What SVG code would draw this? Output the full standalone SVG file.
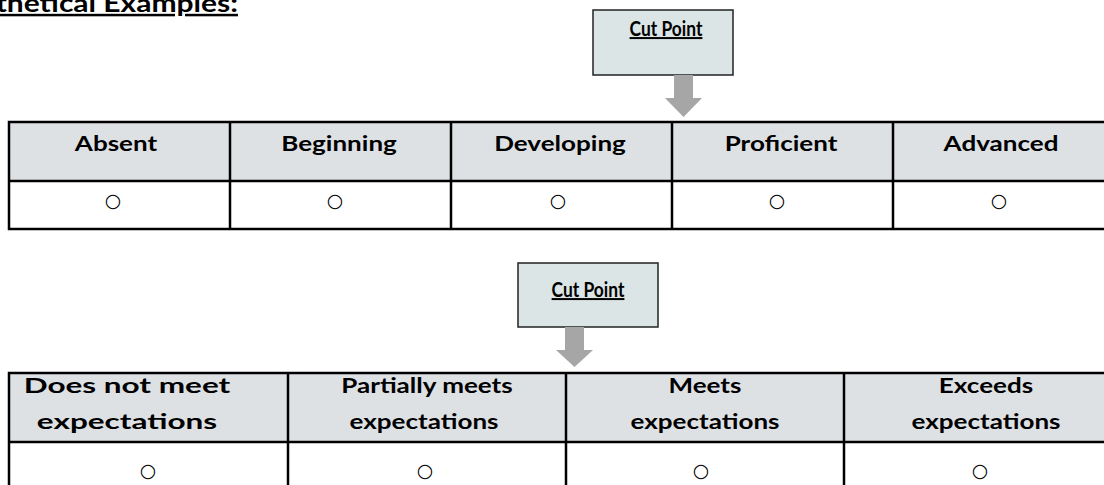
<svg xmlns="http://www.w3.org/2000/svg" width="1104" height="485" viewBox="0 0 1104 485">
<style>
.title{font-family:Lato,"Open Sans",sans-serif;font-weight:bold;font-size:25px;fill:#000;text-decoration:underline}
.cp{fill:#dbe5e6;stroke:#222;stroke-width:1.5}
.cpt{font-family:Lato,"Open Sans",sans-serif;font-weight:bold;font-size:20px;fill:#000;text-decoration:underline}
.hd{fill:#dee1e4}
.hdt{font-family:Lato,"Open Sans",sans-serif;font-weight:bold;font-size:21px;fill:#000}
.ln{stroke:#000;stroke-width:2.5;fill:none}
.ci{font-family:"DejaVu Sans",sans-serif;font-size:19px;fill:#000}
.arr{fill:#a6a6a6}
</style>
<rect width="1104" height="485" fill="#fff"/>
<g id="title"><text class="title" text-anchor="end" transform="translate(238,12) scale(1.2,1)">thetical Examples:</text></g>

<g id="cutpoint1"><rect class="cp" x="593" y="10" width="140" height="65"/><text class="cpt" text-anchor="middle" transform="translate(666,36) scale(0.87,1)">Cut Point</text></g>
<g id="cutpoint2"><rect class="cp" x="518" y="263" width="140" height="64"/><text class="cpt" text-anchor="middle" transform="translate(588,297) scale(0.87,1)">Cut Point</text></g>

<g id="table1">
<rect class="hd" x="9" y="122" width="1105" height="59"/>
<g id="t1-absent"><text class="hdt" text-anchor="middle" transform="translate(116,151) scale(1.24,1)">Absent</text><text class="ci" x="113" y="200" text-anchor="middle" dominant-baseline="central">○</text></g>
<g id="t1-beginning"><text class="hdt" text-anchor="middle" transform="translate(339,151) scale(1.24,1)">Beginning</text><text class="ci" x="335" y="200" text-anchor="middle" dominant-baseline="central">○</text></g>
<g id="t1-developing"><text class="hdt" text-anchor="middle" transform="translate(560,151) scale(1.24,1)">Developing</text><text class="ci" x="558" y="200" text-anchor="middle" dominant-baseline="central">○</text></g>
<g id="t1-proficient"><text class="hdt" text-anchor="middle" transform="translate(781,151) scale(1.24,1)">Proficient</text><text class="ci" x="777" y="200" text-anchor="middle" dominant-baseline="central">○</text></g>
<g id="t1-advanced"><text class="hdt" text-anchor="middle" transform="translate(1001,151) scale(1.24,1)">Advanced</text><text class="ci" x="999" y="200" text-anchor="middle" dominant-baseline="central">○</text></g>
<rect class="ln" x="9" y="122" width="1105" height="107"/>
<line class="ln" x1="9" y1="181" x2="1114" y2="181"/>
<line class="ln" x1="230" y1="122" x2="230" y2="229"/>
<line class="ln" x1="451" y1="122" x2="451" y2="229"/>
<line class="ln" x1="672" y1="122" x2="672" y2="229"/>
<line class="ln" x1="893" y1="122" x2="893" y2="229"/>
</g>

<g id="table2">
<rect class="hd" x="9" y="373" width="1113" height="69"/>
<g id="t2-does-not-meet"><text class="hdt" text-anchor="middle" transform="translate(127,393) scale(1.5,1)">Does not meet</text><text class="hdt" text-anchor="middle" transform="translate(127,429) scale(1.5,1)">expectations</text><text class="ci" x="148" y="470" text-anchor="middle" dominant-baseline="central">○</text></g>
<g id="t2-partially-meets"><text class="hdt" text-anchor="middle" transform="translate(427,393) scale(1.24,1)">Partially meets</text><text class="hdt" text-anchor="middle" transform="translate(424,429) scale(1.24,1)">expectations</text><text class="ci" x="425" y="470" text-anchor="middle" dominant-baseline="central">○</text></g>
<g id="t2-meets"><text class="hdt" text-anchor="middle" transform="translate(705,393) scale(1.24,1)">Meets</text><text class="hdt" text-anchor="middle" transform="translate(705,429) scale(1.24,1)">expectations</text><text class="ci" x="701" y="470" text-anchor="middle" dominant-baseline="central">○</text></g>
<g id="t2-exceeds"><text class="hdt" text-anchor="middle" transform="translate(986,393) scale(1.24,1)">Exceeds</text><text class="hdt" text-anchor="middle" transform="translate(986,429) scale(1.24,1)">expectations</text><text class="ci" x="980" y="470" text-anchor="middle" dominant-baseline="central">○</text></g>
<rect class="ln" x="9" y="373" width="1113" height="130"/>
<line class="ln" x1="9" y1="442" x2="1122" y2="442"/>
<line class="ln" x1="288" y1="373" x2="288" y2="503"/>
<line class="ln" x1="566" y1="373" x2="566" y2="503"/>
<line class="ln" x1="844" y1="373" x2="844" y2="503"/>
</g>

<g id="connectors">
<path class="arr" d="M674,75 H693 V98 H702 L683.5,117 L665,98 H674 Z"/>
<path class="arr" d="M565,327 H584 V350 H593 L574.5,367 L556,350 H565 Z"/>
</g>
</svg>
